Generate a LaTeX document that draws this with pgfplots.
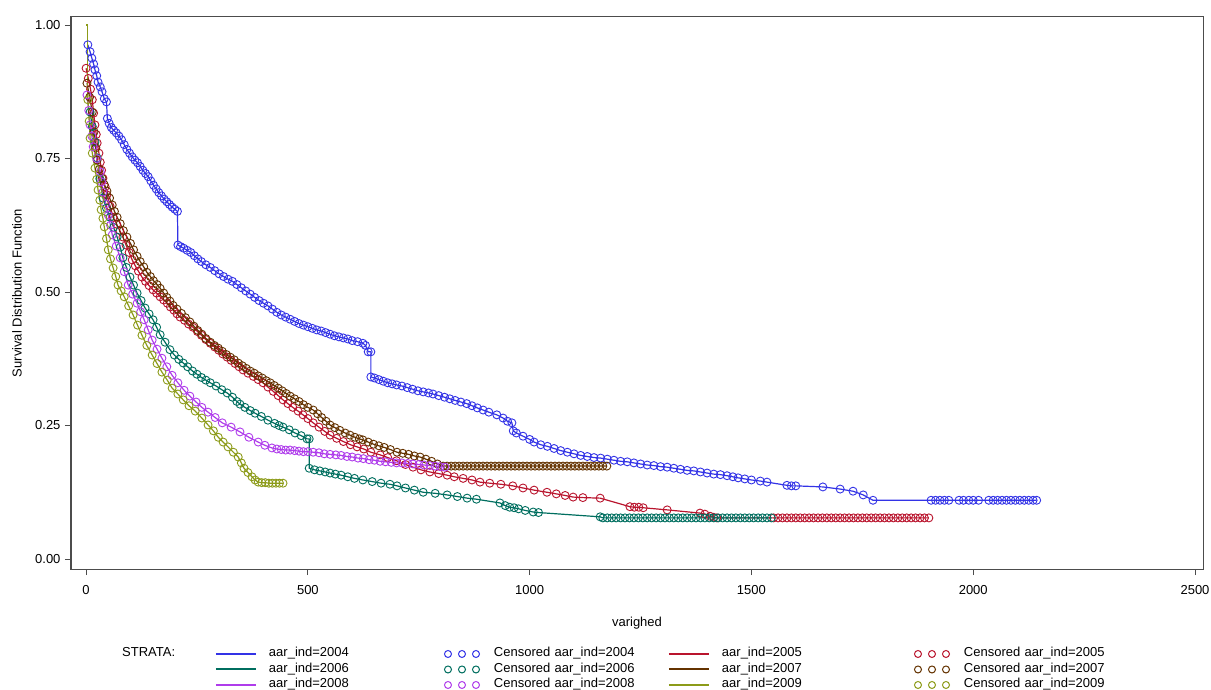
\documentclass[border=0pt]{standalone}
\usepackage{fontspec}
\setmainfont{Liberation Sans}
\usepackage{pgfplots}
\pgfplotsset{compat=1.18}

\definecolor{c2004}{RGB}{51,51,230}
\definecolor{c2005}{RGB}{185,20,45}
\definecolor{c2006}{RGB}{0,110,95}
\definecolor{c2007}{RGB}{100,50,0}
\definecolor{c2008}{RGB}{175,60,235}
\definecolor{c2009}{RGB}{140,155,25}

\pgfplotsset{
  km/.style={line width=1.2pt, mark=o, mark size=4pt,
    mark options={line width=0.9pt, solid}, forget plot},
  lineimg/.style={legend image code/.code={
    \draw[##1, line width=2pt] (0pt,0pt) -- (40pt,0pt);}},
  cenimg/.style={legend image code/.code={
    \path[draw=none] (0pt,0pt) -- (38pt,0pt);
    \draw[##1, line width=1pt] (4pt,0pt) circle[radius=3.5pt];
    \draw[##1, line width=1pt] (18pt,0pt) circle[radius=3.5pt];
    \draw[##1, line width=1pt] (32pt,0pt) circle[radius=3.5pt];}},
}

\begin{document}
\fontsize{13}{15}\selectfont
\begin{tikzpicture}
\path[use as bounding box] (0,0) rectangle (1211pt,689pt);
\begin{axis}[
  at={(71pt,120pt)}, anchor=south west,
  width=1132pt, height=552pt, scale only axis,
  xmin=-34, xmax=2518, ymin=-0.0187, ymax=1.015,
  xtick={0,500,1000,1500,2000,2500},
  ytick={0,0.25,0.5,0.75,1},
  xtick pos=bottom, ytick pos=left,
  tick align=outside, major tick length=6pt,
  tick style={black!70, line width=0.8pt},
  axis line style={black!70, line width=1pt},
  /pgf/number format/assume math mode=true,
  /pgf/number format/1000 sep={},
  xticklabel style={yshift=-6pt},
  yticklabel style={/pgf/number format/.cd, fixed, fixed zerofill, precision=2},
  xlabel={varighed},
  ylabel={Survival Distribution Function},
  xlabel style={at={(axis description cs:0.5,-0.0975)}, anchor=center},
  ylabel style={at={(axis description cs:-0.0477,0.5)}, anchor=center},
  legend columns=4,
  legend cell align=left,
  legend style={at={(axis description cs:0.1272,-0.1431)}, anchor=north west,
    draw=none, fill=none, inner sep=0pt, outer sep=0pt,
    nodes={inner sep=0pt, text height=9pt, text depth=3pt},
    row sep=3.5pt, column sep=0pt,
    /tikz/every odd column/.append style={column sep=12pt}},
]

% aar_ind=2004
\addplot[c2004, km] table[row sep=\\] {
x y\\
4 0.963\\ 9 0.950\\ 13 0.938\\ 17 0.927\\ 20 0.916\\ 24 0.905\\ 27 0.893\\ 32 0.884\\
36 0.875\\ 41 0.862\\ 46 0.856\\ 48 0.825\\ 52 0.816\\ 57 0.808\\ 62 0.803\\ 68 0.798\\
74 0.792\\ 80 0.785\\ 86 0.776\\ 92 0.767\\ 98 0.760\\ 104 0.753\\ 110 0.747\\ 116 0.742\\
122 0.735\\ 128 0.728\\ 134 0.722\\ 140 0.716\\ 146 0.708\\ 152 0.700\\ 158 0.693\\ 164 0.686\\
170 0.680\\ 176 0.674\\ 182 0.669\\ 188 0.664\\ 194 0.659\\ 200 0.655\\ 206 0.651\\ 207 0.588\\
213 0.585\\ 220 0.582\\ 228 0.578\\ 236 0.574\\ 244 0.568\\ 252 0.562\\ 260 0.557\\ 270 0.551\\
280 0.546\\ 290 0.540\\ 300 0.534\\ 310 0.529\\ 320 0.524\\ 330 0.520\\ 340 0.514\\ 350 0.508\\
360 0.502\\ 370 0.496\\ 380 0.490\\ 390 0.484\\ 400 0.479\\ 410 0.474\\ 420 0.468\\ 430 0.462\\
440 0.457\\ 450 0.453\\ 460 0.449\\ 470 0.445\\ 480 0.441\\ 490 0.438\\ 500 0.435\\ 510 0.432\\
520 0.429\\ 530 0.427\\ 540 0.424\\ 550 0.421\\ 560 0.418\\ 570 0.416\\ 580 0.414\\ 590 0.412\\
600 0.409\\ 612 0.407\\ 624 0.404\\ 630 0.400\\ 636 0.388\\ 642 0.388\\ 642 0.341\\ 650 0.339\\
660 0.336\\ 670 0.333\\ 680 0.330\\ 690 0.328\\ 700 0.326\\ 712 0.324\\ 724 0.321\\ 736 0.318\\
748 0.315\\ 760 0.313\\ 772 0.311\\ 782 0.309\\ 795 0.306\\ 808 0.303\\ 820 0.300\\ 832 0.297\\
845 0.294\\ 858 0.291\\ 870 0.287\\ 882 0.283\\ 895 0.279\\ 908 0.275\\ 926 0.270\\ 940 0.264\\
950 0.258\\ 960 0.255\\ 963 0.240\\ 970 0.236\\ 985 0.230\\ 1000 0.224\\ 1010 0.219\\ 1025 0.214\\
1040 0.211\\ 1055 0.207\\ 1070 0.203\\ 1085 0.200\\ 1100 0.197\\ 1115 0.194\\ 1130 0.192\\ 1145 0.190\\
1160 0.189\\ 1175 0.187\\ 1190 0.185\\ 1205 0.183\\ 1220 0.182\\ 1235 0.180\\ 1250 0.178\\ 1265 0.176\\
1280 0.175\\ 1295 0.173\\ 1310 0.172\\ 1325 0.170\\ 1340 0.168\\ 1355 0.166\\ 1370 0.165\\ 1385 0.163\\
1400 0.161\\ 1415 0.159\\ 1430 0.158\\ 1445 0.156\\ 1458 0.154\\ 1470 0.152\\ 1485 0.150\\ 1500 0.148\\
1520 0.146\\ 1535 0.144\\ 1580 0.138\\ 1590 0.137\\ 1600 0.137\\ 1661 0.135\\ 1700 0.131\\ 1729 0.127\\
1752 0.120\\ 1774 0.110\\ 1905 0.110\\ 1915 0.110\\ 1925 0.110\\ 1935 0.110\\ 1945 0.110\\ 1968 0.110\\
1978 0.110\\ 1990 0.110\\ 2000 0.110\\ 2012 0.110\\ 2035 0.110\\ 2045 0.110\\ 2055 0.110\\ 2065 0.110\\
2075 0.110\\ 2085 0.110\\ 2095 0.110\\ 2105 0.110\\ 2115 0.110\\ 2125 0.110\\ 2135 0.110\\ 2143 0.110\\
};

% aar_ind=2005
\addplot[c2005, km] table[row sep=\\] {
x y\\
0 0.919\\ 5 0.900\\ 10 0.880\\ 14 0.860\\ 17 0.835\\ 20 0.813\\ 23 0.795\\ 25 0.779\\
29 0.760\\ 32 0.743\\ 35 0.728\\ 38 0.713\\ 43 0.697\\ 47 0.682\\ 54 0.661\\ 61 0.640\\
69 0.627\\ 76 0.615\\ 83 0.603\\ 90 0.588\\ 97 0.574\\ 104 0.560\\ 111 0.549\\ 118 0.539\\
126 0.528\\ 134 0.520\\ 142 0.512\\ 151 0.504\\ 159 0.498\\ 167 0.491\\ 175 0.485\\ 183 0.479\\
190 0.472\\ 198 0.466\\ 205 0.459\\ 212 0.453\\ 222 0.447\\ 231 0.440\\ 241 0.434\\ 251 0.426\\
260 0.419\\ 270 0.411\\ 280 0.404\\ 290 0.397\\ 299 0.391\\ 308 0.384\\ 318 0.378\\ 327 0.372\\
336 0.366\\ 345 0.360\\ 354 0.354\\ 365 0.348\\ 377 0.342\\ 388 0.336\\ 399 0.330\\ 410 0.322\\
422 0.314\\ 433 0.306\\ 444 0.298\\ 455 0.291\\ 466 0.284\\ 478 0.277\\ 489 0.270\\ 500 0.263\\
512 0.255\\ 525 0.247\\ 538 0.239\\ 550 0.232\\ 565 0.226\\ 580 0.220\\ 596 0.214\\ 611 0.210\\
626 0.206\\ 642 0.200\\ 663 0.195\\ 680 0.190\\ 700 0.184\\ 720 0.177\\ 737 0.172\\ 755 0.167\\
775 0.163\\ 795 0.160\\ 814 0.157\\ 830 0.154\\ 850 0.151\\ 870 0.148\\ 888 0.144\\ 910 0.142\\
935 0.140\\ 962 0.137\\ 985 0.133\\ 1010 0.129\\ 1039 0.125\\ 1060 0.122\\ 1080 0.119\\ 1098 0.116\\
1120 0.115\\ 1159 0.114\\ 1226 0.098\\ 1236 0.097\\ 1246 0.097\\ 1256 0.096\\ 1310 0.092\\ 1384 0.086\\
1395 0.084\\ 1407 0.080\\ 1415 0.078\\ 1422 0.077\\ 1550 0.077\\ 1560 0.077\\ 1570 0.077\\ 1580 0.077\\
1590 0.077\\ 1600 0.077\\ 1610 0.077\\ 1620 0.077\\ 1630 0.077\\ 1640 0.077\\ 1650 0.077\\ 1660 0.077\\
1670 0.077\\ 1680 0.077\\ 1690 0.077\\ 1700 0.077\\ 1710 0.077\\ 1720 0.077\\ 1730 0.077\\ 1740 0.077\\
1750 0.077\\ 1760 0.077\\ 1770 0.077\\ 1780 0.077\\ 1790 0.077\\ 1800 0.077\\ 1810 0.077\\ 1820 0.077\\
1830 0.077\\ 1840 0.077\\ 1850 0.077\\ 1860 0.077\\ 1870 0.077\\ 1880 0.077\\ 1890 0.077\\ 1900 0.077\\
};

% aar_ind=2006
\addplot[c2006, km] table[row sep=\\] {
x y\\
9 0.837\\ 14 0.810\\ 20 0.781\\ 25 0.751\\ 31 0.712\\ 38 0.676\\ 46 0.657\\ 54 0.640\\
62 0.621\\ 70 0.603\\ 77 0.584\\ 83 0.564\\ 91 0.546\\ 99 0.528\\ 107 0.513\\ 115 0.498\\
124 0.484\\ 133 0.470\\ 142 0.459\\ 151 0.448\\ 159 0.434\\ 167 0.420\\ 178 0.406\\ 189 0.392\\
199 0.382\\ 209 0.374\\ 219 0.367\\ 229 0.360\\ 240 0.352\\ 250 0.346\\ 260 0.340\\ 270 0.335\\
280 0.330\\ 293 0.324\\ 306 0.317\\ 318 0.311\\ 330 0.303\\ 340 0.295\\ 347 0.290\\ 358 0.284\\
370 0.278\\ 381 0.273\\ 395 0.267\\ 410 0.260\\ 425 0.254\\ 435 0.250\\ 444 0.247\\ 458 0.242\\
471 0.236\\ 485 0.231\\ 498 0.225\\ 503 0.225\\ 503 0.170\\ 515 0.167\\ 527 0.165\\ 539 0.163\\
550 0.161\\ 562 0.159\\ 575 0.157\\ 590 0.154\\ 605 0.151\\ 624 0.148\\ 645 0.145\\ 665 0.142\\
685 0.140\\ 701 0.137\\ 720 0.133\\ 740 0.129\\ 760 0.125\\ 787 0.123\\ 814 0.120\\ 837 0.117\\
859 0.114\\ 880 0.112\\ 933 0.105\\ 945 0.100\\ 955 0.097\\ 965 0.096\\ 975 0.094\\ 990 0.091\\
1008 0.088\\ 1020 0.087\\ 1159 0.079\\ 1165 0.077\\ 1175 0.077\\ 1185 0.077\\ 1195 0.077\\ 1205 0.077\\
1215 0.077\\ 1225 0.077\\ 1235 0.077\\ 1245 0.077\\ 1255 0.077\\ 1265 0.077\\ 1275 0.077\\ 1285 0.077\\
1295 0.077\\ 1305 0.077\\ 1315 0.077\\ 1325 0.077\\ 1335 0.077\\ 1345 0.077\\ 1355 0.077\\ 1365 0.077\\
1375 0.077\\ 1385 0.077\\ 1395 0.077\\ 1405 0.077\\ 1415 0.077\\ 1425 0.077\\ 1435 0.077\\ 1445 0.077\\
1455 0.077\\ 1465 0.077\\ 1475 0.077\\ 1485 0.077\\ 1495 0.077\\ 1505 0.077\\ 1515 0.077\\ 1525 0.077\\
1535 0.077\\ 1545 0.077\\
};

% aar_ind=2007
\addplot[c2007, km] table[row sep=\\] {
x y\\
2 0.891\\ 8 0.865\\ 14 0.837\\ 18 0.800\\ 22 0.770\\ 25 0.747\\ 30 0.730\\ 36 0.713\\
41 0.701\\ 47 0.689\\ 53 0.676\\ 59 0.663\\ 64 0.651\\ 70 0.640\\ 77 0.628\\ 84 0.615\\
92 0.603\\ 100 0.591\\ 107 0.579\\ 115 0.567\\ 122 0.557\\ 130 0.547\\ 137 0.537\\ 145 0.529\\
152 0.521\\ 160 0.514\\ 167 0.507\\ 175 0.498\\ 182 0.490\\ 189 0.483\\ 196 0.475\\ 205 0.468\\
215 0.460\\ 224 0.452\\ 234 0.444\\ 243 0.436\\ 252 0.428\\ 261 0.421\\ 270 0.413\\ 280 0.406\\
289 0.400\\ 298 0.395\\ 307 0.389\\ 316 0.383\\ 325 0.378\\ 334 0.373\\ 343 0.367\\ 352 0.362\\
361 0.357\\ 370 0.352\\ 379 0.348\\ 388 0.343\\ 397 0.339\\ 406 0.334\\ 415 0.330\\ 424 0.325\\
433 0.320\\ 442 0.315\\ 451 0.310\\ 460 0.305\\ 470 0.300\\ 480 0.295\\ 490 0.289\\ 500 0.284\\
512 0.279\\ 522 0.272\\ 531 0.265\\ 541 0.258\\ 550 0.251\\ 561 0.246\\ 572 0.241\\ 584 0.236\\
595 0.232\\ 606 0.228\\ 616 0.225\\ 624 0.223\\ 636 0.219\\ 648 0.215\\ 660 0.212\\ 672 0.209\\
686 0.205\\ 701 0.200\\ 714 0.198\\ 727 0.196\\ 740 0.193\\ 753 0.191\\ 766 0.187\\ 779 0.183\\
792 0.178\\ 805 0.174\\ 814 0.174\\ 823 0.174\\ 832 0.174\\ 841 0.174\\ 850 0.174\\ 859 0.174\\
868 0.174\\ 877 0.174\\ 886 0.174\\ 895 0.174\\ 904 0.174\\ 913 0.174\\ 922 0.174\\ 931 0.174\\
940 0.174\\ 949 0.174\\ 958 0.174\\ 967 0.174\\ 976 0.174\\ 985 0.174\\ 994 0.174\\ 1003 0.174\\
1012 0.174\\ 1021 0.174\\ 1030 0.174\\ 1039 0.174\\ 1048 0.174\\ 1057 0.174\\ 1066 0.174\\ 1075 0.174\\
1084 0.174\\ 1093 0.174\\ 1102 0.174\\ 1111 0.174\\ 1120 0.174\\ 1129 0.174\\ 1138 0.174\\ 1147 0.174\\
1156 0.174\\ 1165 0.174\\ 1174 0.174\\
};

% aar_ind=2008
\addplot[c2008, km] table[row sep=\\] {
x y\\
2 0.869\\ 6 0.840\\ 9 0.813\\ 13 0.792\\ 16 0.772\\ 24 0.750\\ 32 0.725\\ 35 0.706\\
38 0.687\\ 44 0.665\\ 50 0.644\\ 55 0.625\\ 59 0.607\\ 68 0.586\\ 77 0.564\\ 86 0.538\\
95 0.513\\ 105 0.496\\ 115 0.479\\ 123 0.463\\ 131 0.448\\ 140 0.429\\ 149 0.410\\ 160 0.393\\
171 0.376\\ 182 0.360\\ 194 0.344\\ 207 0.330\\ 221 0.316\\ 234 0.305\\ 248 0.294\\ 261 0.284\\
275 0.275\\ 291 0.265\\ 307 0.255\\ 327 0.247\\ 347 0.238\\ 367 0.228\\ 388 0.219\\ 403 0.213\\
419 0.208\\ 430 0.206\\ 440 0.205\\ 450 0.204\\ 460 0.204\\ 470 0.203\\ 480 0.202\\ 490 0.201\\
500 0.201\\ 512 0.200\\ 525 0.199\\ 537 0.197\\ 550 0.196\\ 563 0.195\\ 575 0.194\\ 588 0.192\\
600 0.191\\ 613 0.189\\ 625 0.188\\ 638 0.186\\ 650 0.185\\ 663 0.183\\ 675 0.182\\ 688 0.181\\
700 0.180\\ 712 0.180\\ 725 0.179\\ 737 0.178\\ 750 0.177\\ 762 0.176\\ 775 0.175\\ 787 0.174\\
798 0.173\\ 809 0.172\\
};

% aar_ind=2009
\addplot[c2009, line width=1.2pt, forget plot] coordinates {(0,1) (4,1) (4,0.860)};
\addplot[c2009, km] table[row sep=\\] {
x y\\
4 0.860\\ 7 0.820\\ 9 0.788\\ 14 0.760\\ 20 0.732\\ 24 0.711\\ 27 0.691\\ 31 0.672\\
34 0.654\\ 38 0.638\\ 41 0.622\\ 46 0.600\\ 50 0.579\\ 55 0.562\\ 61 0.545\\ 67 0.529\\
72 0.513\\ 79 0.502\\ 86 0.491\\ 96 0.474\\ 106 0.457\\ 116 0.438\\ 126 0.419\\ 137 0.400\\
149 0.382\\ 160 0.366\\ 171 0.350\\ 183 0.335\\ 194 0.320\\ 207 0.309\\ 219 0.298\\ 232 0.287\\
246 0.277\\ 261 0.264\\ 275 0.251\\ 287 0.240\\ 298 0.228\\ 309 0.219\\ 320 0.210\\ 332 0.200\\
343 0.191\\ 350 0.180\\ 356 0.170\\ 365 0.162\\ 374 0.154\\ 381 0.148\\ 388 0.144\\ 396 0.143\\
404 0.143\\ 412 0.142\\ 420 0.142\\ 428 0.142\\ 436 0.142\\ 444 0.142\\
};

\addlegendimage{c2004, lineimg}
\addlegendentry[text width=175pt]{aar\_ind=2004}
\addlegendimage{c2004, cenimg}
\addlegendentry[text width=174pt]{Censored aar\_ind=2004}
\addlegendimage{c2005, lineimg}
\addlegendentry[text width=192pt]{aar\_ind=2005}
\addlegendimage{c2005, cenimg}
\addlegendentry[text width=170pt]{Censored aar\_ind=2005}
\addlegendimage{c2006, lineimg}
\addlegendentry[text width=175pt]{aar\_ind=2006}
\addlegendimage{c2006, cenimg}
\addlegendentry[text width=174pt]{Censored aar\_ind=2006}
\addlegendimage{c2007, lineimg}
\addlegendentry[text width=192pt]{aar\_ind=2007}
\addlegendimage{c2007, cenimg}
\addlegendentry[text width=170pt]{Censored aar\_ind=2007}
\addlegendimage{c2008, lineimg}
\addlegendentry[text width=175pt]{aar\_ind=2008}
\addlegendimage{c2008, cenimg}
\addlegendentry[text width=174pt]{Censored aar\_ind=2008}
\addlegendimage{c2009, lineimg}
\addlegendentry[text width=192pt]{aar\_ind=2009}
\addlegendimage{c2009, cenimg}
\addlegendentry[text width=170pt]{Censored aar\_ind=2009}
\end{axis}
\node[anchor=west, inner sep=0pt] at (122pt,37pt) {STRATA:};
\end{tikzpicture}
\end{document}
